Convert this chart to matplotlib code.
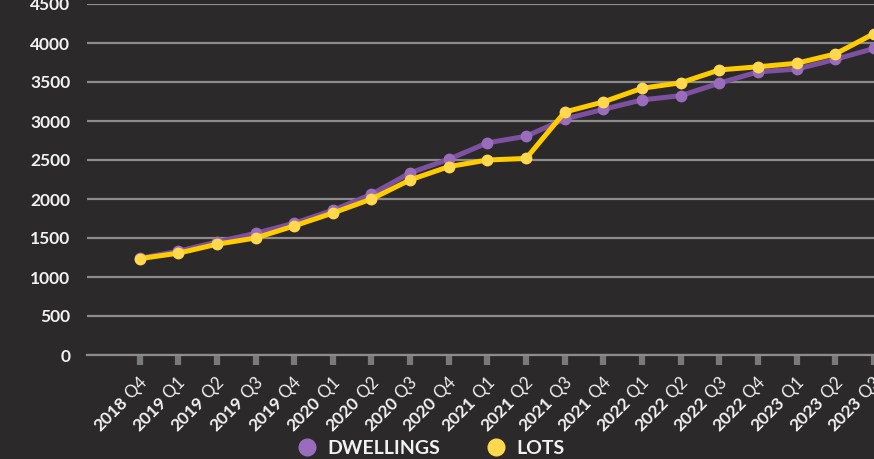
import matplotlib
import matplotlib.pyplot as plt
from matplotlib.lines import Line2D
import numpy as np

matplotlib.use("Agg")

years = ["2018", "2019", "2019", "2019", "2019", "2020", "2020", "2020", "2020",
         "2021", "2021", "2021", "2021", "2022", "2022", "2022", "2022",
         "2023", "2023", "2023"]
quarters = ["Q4", "Q1", "Q2", "Q3", "Q4", "Q1", "Q2", "Q3", "Q4",
            "Q1", "Q2", "Q3", "Q4", "Q1", "Q2", "Q3", "Q4",
            "Q1", "Q2", "Q3"]
dwellings = [1240, 1330, 1450, 1560, 1690, 1855, 2060, 2335, 2510, 2720, 2805,
             3025, 3150, 3270, 3325, 3485, 3630, 3665, 3790, 3930]
lots = [1235, 1305, 1420, 1500, 1655, 1820, 2000, 2245, 2415, 2500, 2520,
        3115, 3245, 3420, 3490, 3655, 3695, 3740, 3860, 4120]

BG = "#2b2929"
PURPLE = "#7d51a0"
PURPLE_M = "#9a6cbd"
YELLOW = "#ffcc00"
YELLOW_M = "#ffd84d"
GRID = "#8c8c8c"
TXT = "#f2f2f2"
FONT = "Lato"

fig = plt.figure(figsize=(8.74, 4.59), dpi=100, facecolor=BG)
ax = fig.add_axes([87 / 874, 1 - 355 / 459, 1 - 87 / 874, (355 - 4) / 459])
ax.set_facecolor(BG)

x = np.arange(len(years))
ax.plot(x, dwellings, color=PURPLE, lw=3.6, marker="o", ms=7.5,
        mfc=PURPLE_M, mec=PURPLE_M, zorder=3)
ax.plot(x, lots, color=YELLOW, lw=3.6, marker="o", ms=7.5,
        mfc=YELLOW_M, mec=YELLOW_M, zorder=4)

ax.set_xlim(-1.36, 18.85)
ax.set_ylim(0, 4500)
ax.set_yticks(np.arange(0, 4501, 500))
ax.grid(axis="y", color=GRID, lw=1.6)
ax.set_axisbelow(True)
for s in ["top", "right", "left"]:
    ax.spines[s].set_visible(False)
ax.spines["bottom"].set_color(GRID)
ax.spines["bottom"].set_linewidth(1.6)

ax.tick_params(axis="y", length=0, pad=12, labelsize=12.5, labelcolor=TXT)
for lab in ax.get_yticklabels():
    lab.set_fontfamily(FONT)
    lab.set_fontweight("bold")

ax.set_xticks(x)
ax.set_xticklabels([])
ax.tick_params(axis="x", length=7, width=4.5, color="#7a7a7a", direction="out")

# two-weight rotated tick labels
renderer = fig.canvas.get_renderer()
c = np.cos(np.pi / 4)
for i in x:
    q = " " + quarters[i]
    tmp = fig.text(0, 0, q, fontsize=12, family=FONT, fontweight="normal")
    w = tmp.get_window_extent(renderer).width * 72 / fig.dpi
    tmp.remove()
    x0, y0 = 6.0, -21.0
    ax.annotate(q, xy=(i, 0), xycoords=("data", "axes fraction"),
                xytext=(x0, y0), textcoords="offset points",
                rotation=45, rotation_mode="anchor", ha="right", va="baseline",
                fontsize=12, family=FONT, fontweight="normal", color=TXT,
                annotation_clip=False)
    ax.annotate(years[i], xy=(i, 0), xycoords=("data", "axes fraction"),
                xytext=(x0 - w * c, y0 - w * c), textcoords="offset points",
                rotation=45, rotation_mode="anchor", ha="right", va="baseline",
                fontsize=12.5, family=FONT, fontweight="bold", color=TXT,
                annotation_clip=False)

handles = [
    Line2D([], [], ls="none", marker="o", ms=12, mfc=PURPLE_M, mec=PURPLE_M),
    Line2D([], [], ls="none", marker="o", ms=12, mfc=YELLOW_M, mec=YELLOW_M),
]
fig.legend(handles, ["DWELLINGS", "LOTS"], loc="center",
           bbox_to_anchor=(426 / 874, 1 - 448 / 459), ncol=2, frameon=False,
           labelcolor=TXT, handletextpad=0.05, columnspacing=1.9,
           prop={"family": FONT, "weight": "bold", "size": 14})

fig.savefig("out.png", dpi=100, facecolor=BG)
